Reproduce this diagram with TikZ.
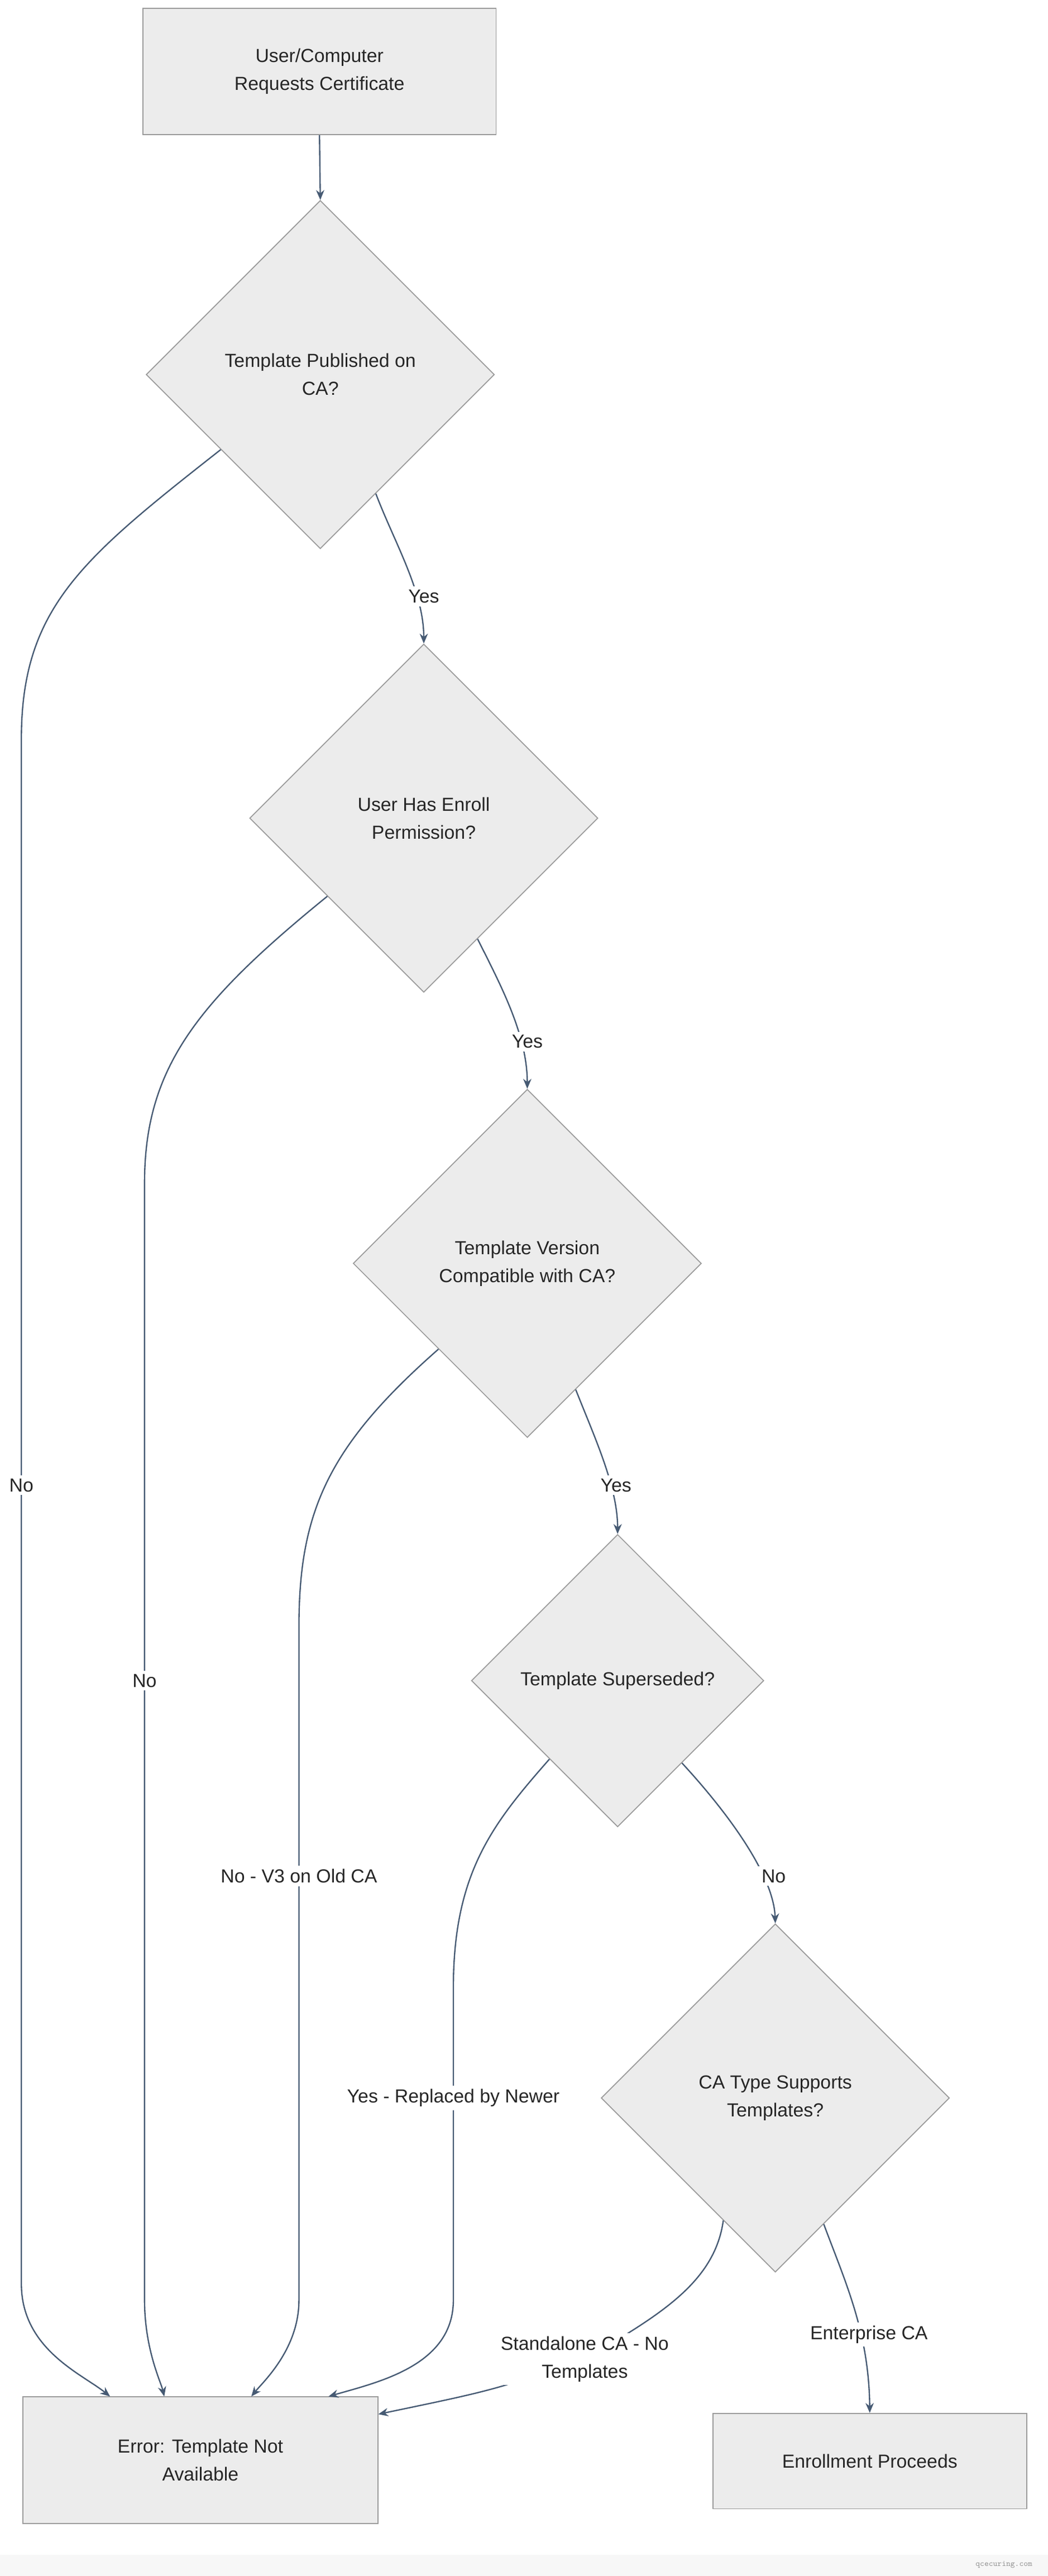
\documentclass[tikz,border=0pt]{standalone}
\usepackage{fontspec}
\setmainfont{Liberation Sans}
\usetikzlibrary{shapes.geometric,arrows.meta,calc}
\definecolor{nfill}{HTML}{ECECEC}
\definecolor{nbord}{HTML}{9A9A9A}
\definecolor{edge}{HTML}{465A73}
\begin{document}
\begin{tikzpicture}[x=1pt,y=-1pt,
  every node/.style={font=\fontsize{11.5}{17}\selectfont, text=black!85, align=center},
  box/.style={draw=nbord, fill=nfill, line width=0.6pt, inner sep=0},
  dia/.style={diamond, draw=nbord, fill=nfill, line width=0.6pt, minimum width=212pt, minimum height=212pt, inner sep=0},
  dias/.style={dia, minimum width=178pt, minimum height=178pt},
  con/.style={draw=edge, line width=0.8pt, -{Stealth[length=6pt,width=5pt]}},
  lab/.style={fill=white, inner sep=2pt}]
\useasboundingbox (0,0) rectangle (638,1568);
\fill[white] (0,0) rectangle (638,1568);
\fill[black!3] (0,1555) rectangle (638,1568);
\node[font=\ttfamily\fontsize{5}{6}\selectfont, text=black!40, anchor=east] (wm) at (632,1561) {qcecuring.com};

\node[box, minimum width=215pt, minimum height=77pt] (b1) at (194.5,43.5) {User/Computer\\Requests Certificate};
\node[dia] (d1) at (195,228) {Template Published on\\CA?};
\node[dia] (d2) at (258,498) {User Has Enroll\\Permission?};
\node[dia] (d3) at (321,769) {Template Version\\Compatible with CA?};
\node[dias] (d4) at (376,1023) {Template Superseded?};
\node[dia] (d5) at (472,1277) {CA Type Supports\\Templates?};
\node[box, minimum width=216pt, minimum height=77pt] (err) at (122,1497.5) {Error: Template Not\\Available};
\node[box, minimum width=191pt, minimum height=58pt] (en) at (529.5,1498) {Enrollment Proceeds};

\draw[con] (b1.south) -- (d1.north);
\draw[con] (d1.295) .. controls (240,330) and (258,360) .. (d2.north);
\draw[con] (d1.217) .. controls (50,340) and (13,370) .. (13,450) -- (13,1390) .. controls (13,1430) and (50,1445) .. ($(err.north)+(-55,0)$);
\draw[con] (d2.219) .. controls (120,610) and (88,650) .. (88,720) -- (88,1400) .. controls (88,1430) and (98,1450) .. ($(err.north)+(-22,0)$);
\draw[con] (d2.294) .. controls (305,600) and (321,630) .. (d3.north);
\draw[con] (d3.224) .. controls (200,880) and (182,920) .. (182,990) -- (182,1400) .. controls (182,1430) and (160,1450) .. ($(err.north)+(31,0)$);
\draw[con] (d3.291) .. controls (362,875) and (376,905) .. (d4.north);
\draw[con] (d4.229) .. controls (300,1110) and (276,1140) .. (276,1210) -- (276,1400) .. controls (276,1440) and (230,1450) .. ($(err.north)+(78,0)$);
\draw[con] (d4.308) .. controls (440,1100) and (471,1140) .. (d5.north);
\draw[con] (d5.247) .. controls (435,1390) and (400,1410) .. (356,1436) .. controls (300,1455) .. ($(err.east)+(0,-28)$);
\draw[con] (d5.291) .. controls (515,1390) and (529,1420) .. (en.north);

\node[lab] (l1) at (258,363) {Yes};
\node[lab] (l2) at (13,904) {No};
\node[lab] (l3) at (88,1023) {No};
\node[lab] (l4) at (321,634) {Yes};
\node[lab] (l5) at (182,1142) {No - V3 on Old CA};
\node[lab] (l6) at (375,904) {Yes};
\node[lab] (l7) at (276,1277) {Yes - Replaced by Newer};
\node[lab] (l8) at (471,1142) {No};
\node[lab] (l9) at (356,1436) {Standalone CA - No\\Templates};
\node[lab] (l10) at (529,1421) {Enterprise CA};
\end{tikzpicture}
\end{document}
